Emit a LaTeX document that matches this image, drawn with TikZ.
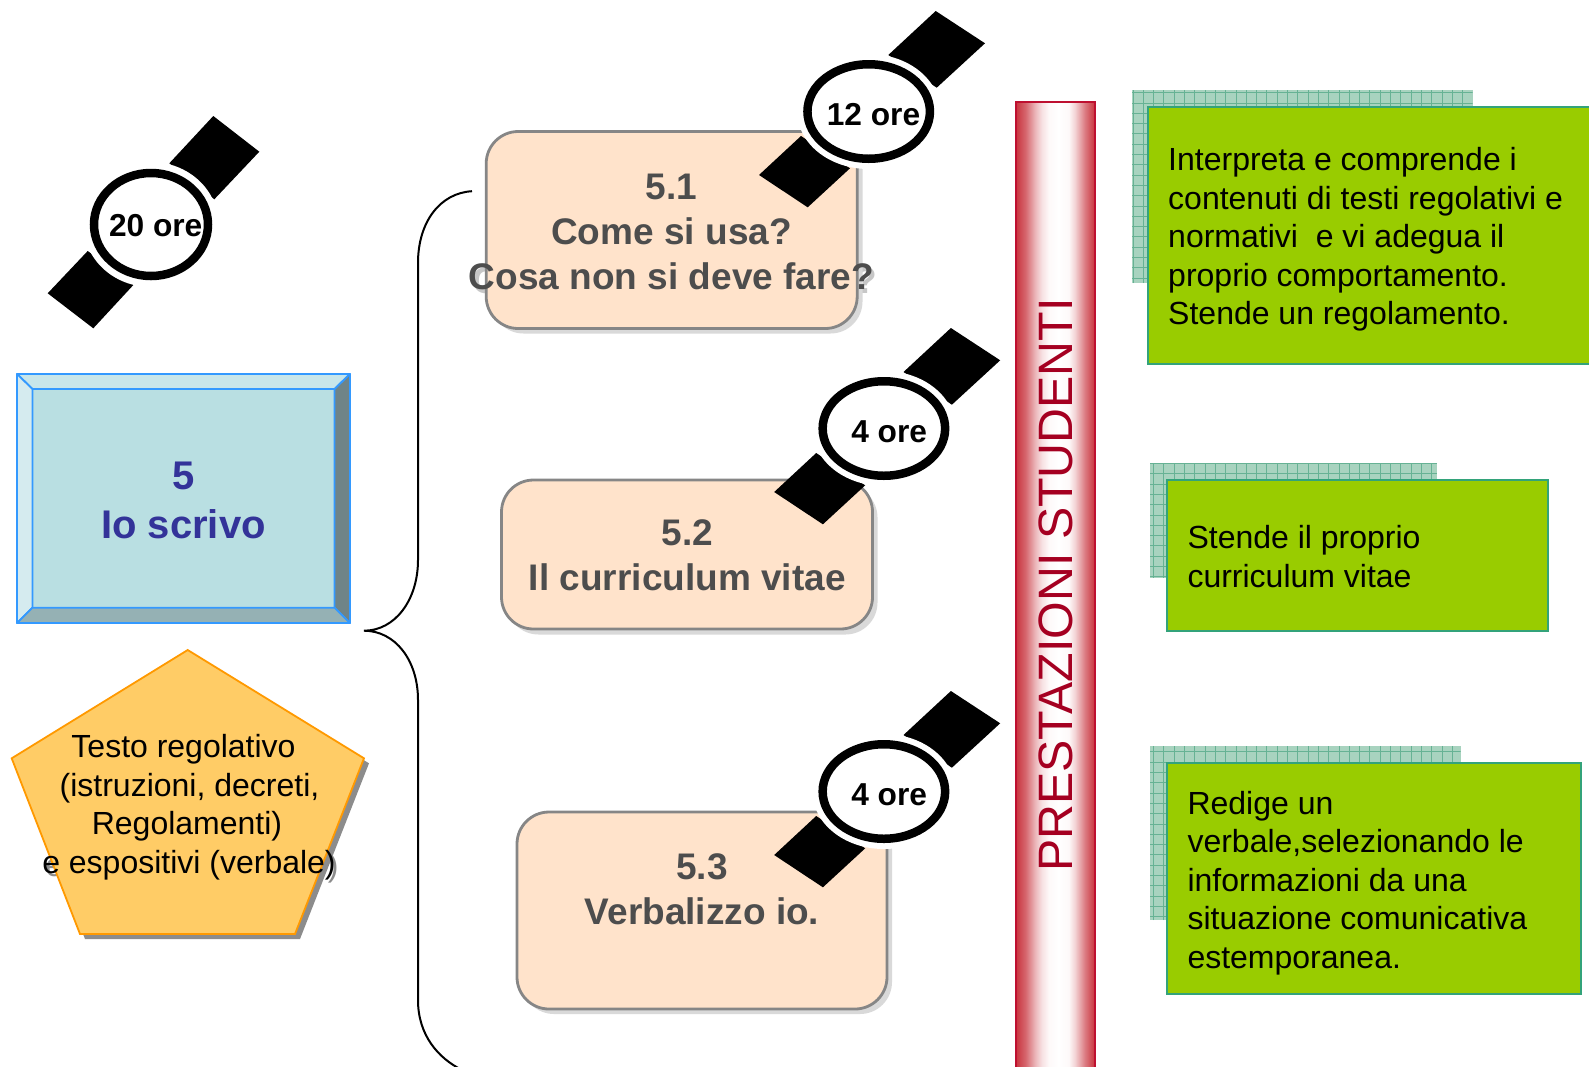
\documentclass[tikz,border=0pt]{standalone}
\usepackage{fontspec}
\setmainfont{Liberation Sans}
\usetikzlibrary{shapes.geometric}
\definecolor{facecol}{HTML}{B9DFE2}
\definecolor{topcol}{HTML}{C8E6EA}
\definecolor{leftcol}{HTML}{D5EBEF}
\definecolor{rightcol}{HTML}{6F8487}
\definecolor{botcol}{HTML}{95B1B4}
\definecolor{edgeblue}{HTML}{3399FF}
\definecolor{titleblue}{HTML}{333399}
\definecolor{pentfill}{HTML}{FFCC66}
\definecolor{pentedge}{HTML}{FF9900}
\definecolor{softfill}{HTML}{FFE3CB}
\definecolor{softedge}{HTML}{868686}
\definecolor{softshadow}{HTML}{D9D9D9}
\definecolor{softtext}{HTML}{4D4D4D}
\definecolor{barred}{HTML}{BE1030}
\definecolor{barfade}{HTML}{C8323C}
\definecolor{bartext}{HTML}{A50021}
\definecolor{greenfill}{HTML}{99CC00}
\definecolor{greenedge}{HTML}{33A37A}
\definecolor{backfill}{HTML}{A8D3BF}
\definecolor{backline}{HTML}{66B294}
\pgfdeclarehorizontalshading{barshade}{100bp}{
 color(0bp)=(barfade);
 color(25bp)=(barfade);
 color(31.25bp)=(barfade!75!white);
 color(37.5bp)=(barfade!35!white);
 color(41.5bp)=(barfade!15!white);
 color(46bp)=(barfade!3!white);
 color(52bp)=(white);
 color(58.5bp)=(barfade!3!white);
 color(62.5bp)=(barfade!22!white);
 color(68.75bp)=(barfade!65!white);
 color(75bp)=(barfade);
 color(100bp)=(barfade)}
\tikzset{
  x=1pt,y=-1pt,
  softbox/.style={draw=softedge,line width=2.8pt,fill=softfill,rounded corners=32pt,minimum width=#1,inner sep=0pt},
  softshade/.style={fill=softshadow,rounded corners=32pt,minimum width=#1,inner sep=0pt},
  softlabel/.style={font=\fontsize{37}{45}\selectfont\bfseries,text=softtext,align=center,inner sep=0pt},
  softghost/.style={font=\fontsize{37}{45}\selectfont\bfseries,text=softshadow!80!gray,align=center,inner sep=0pt},
  greenbox/.style={draw=greenedge,line width=2pt,fill=greenfill},
  greenlabel/.style={font=\fontsize{32}{38.5}\selectfont,align=left,anchor=north west,inner sep=0pt,text=black},
  backrect/.style={fill=backfill},
  backgrid/.style={draw=backline,line width=0.9pt,step=10.3pt},
  brace/.style={draw=black,line width=2pt},
  strap/.style={fill=black},
  dial/.style={shape=ellipse,draw=black,line width=8.5pt,fill=white,inner sep=0pt},
  halo/.style={shape=ellipse,fill=white,inner sep=0pt},
  watchtext/.style={font=\fontsize{31.7}{36}\selectfont\bfseries,inner sep=0pt,anchor=base,text=black},
  pentlabel/.style={font=\fontsize{32}{38.4}\selectfont,align=center,inner sep=0pt,text=black},
  bevel/.style={draw=edgeblue,line width=1.8pt,line join=round},
}
\newcommand{\smallwatch}[4]{% name, dx, dy, text, text centre
  \begin{scope}[shift={(#2,#3)}]
    \fill[strap] (935.7,11) -- (985,43.3) -- (936.7,87.7) -- (888.3,55) -- cycle;
    \fill[strap] (801,136) -- (850,168.3) -- (807.7,207.3) -- (759,175) -- cycle;
    \node[halo,minimum width=143pt,minimum height=115pt] (#1halo) at (868.7,111.5) {};
    \node[dial,minimum width=122.5pt,minimum height=94.5pt] (#1) at (868.7,111.5) {};
    \node[watchtext] (#1text) at (#4,125.5) {#1 ore};
  \end{scope}}
\begin{document}
\begin{tikzpicture}
\clip (0,0) rectangle (1589,1066);
\fill[white] (0,0) rectangle (1589,1066);

% main bevel box
\fill[facecol] (32.5,389) rectangle (334.5,607.7);
\filldraw[fill=topcol,bevel] (17,374) -- (350,374) -- (334.5,389) -- (32.5,389) -- cycle;
\filldraw[fill=leftcol,bevel] (17,374) -- (32.5,389) -- (32.5,607.7) -- (17,623) -- cycle;
\filldraw[fill=rightcol,bevel] (350,374) -- (350,623) -- (334.5,607.7) -- (334.5,389) -- cycle;
\filldraw[fill=botcol,bevel] (17,623) -- (32.5,607.7) -- (334.5,607.7) -- (350,623) -- cycle;
\node[font=\fontsize{40}{48.3}\selectfont\bfseries,text=titleblue,align=center,inner sep=0pt] (maintitle) at (183.5,500.5) {5\\Io scrivo};

% pentagon
\node[font=\fontsize{32}{38.4}\selectfont,align=center,inner sep=0pt,text=black!45] (pentghost) at (190,810.3) {Testo regolativo\hspace*{7pt}\\\hspace*{5pt}(istruzioni, decreti,\\Regolamenti)\hspace*{13pt}\\\hspace*{4pt}e espositivi (verbale)};
\fill[black!45] (192.7,655) -- (369,763.3) -- (300,939) -- (85,939) -- (16.7,763.3) -- cycle;
\filldraw[fill=pentfill,draw=pentedge,line width=1.8pt] (187.7,650) -- (364,758.3) -- (295,934) -- (80,934) -- (11.7,758.3) -- cycle;
\node[pentlabel] (penttext) at (187,807.3) {Testo regolativo\hspace*{7pt}\\\hspace*{5pt}(istruzioni, decreti,\\Regolamenti)\hspace*{13pt}\\\hspace*{4pt}e espositivi (verbale)};

% brace
\coordinate (braceA) at (472,191.2);
\coordinate (braceB) at (418,263);
\coordinate (braceC) at (418,560);
\coordinate (tip) at (364,630.7);
\coordinate (braceD) at (418,700);
\coordinate (braceE) at (418,1000);
\coordinate (braceF) at (462,1070);
\draw[brace] (braceA) .. controls (440,193) and (418,222) .. (braceB) -- (braceC)
  .. controls (418,600) and (395,630.7) .. (tip)
  .. controls (395,630.7) and (418,660) .. (braceD) -- (braceE)
  .. controls (418,1035) and (438,1058) .. (braceF);

% soft boxes
\node[softghost] (ghostA) at (675,235.8) {5.1\\Come si usa?\\Cosa non si deve fare?};
\node[softshade=371pt,minimum height=197pt] (shadeA) at (677,235) {};
\node[softbox=371pt,minimum height=197pt] (boxA) at (671.7,230) {};
\node[softlabel] (labelA) at (671.5,231.8) {5.1\\Come si usa?\\Cosa non si deve fare?};

\node[softshade=371pt,minimum height=149pt] (shadeB) at (692,560) {};
\node[softbox=371pt,minimum height=149pt] (boxB) at (687,554.5) {};
\node[softlabel] (labelB) at (687.3,555.5) {5.2\\Il curriculum vitae};

\node[softshade=370pt,minimum height=197pt] (shadeC) at (707,915.5) {};
\node[softbox=370pt,minimum height=197pt] (boxC) at (702,910.5) {};
\node[softlabel] (labelC) at (702,889) {5.3\\Verbalizzo io.};

% watches
\smallwatch{12}{0}{0}{873.5}
\smallwatch{4}{15.2}{317}{874}
\begingroup
\smallwatch{4}{15.2}{680}{874}
\endgroup
\fill[strap] (213.3,116) -- (259.3,151.7) -- (214.3,199.3) -- (169.3,163.3) -- cycle;
\fill[strap] (87.7,251) -- (134,284.3) -- (93.3,328.3) -- (47.7,293.3) -- cycle;
\node[halo,minimum width=135pt,minimum height=125pt] (watchhalo) at (151,224.5) {};
\node[dial,minimum width=114pt,minimum height=103pt] (watch20) at (151,224.5) {};
\node[watchtext] (watch20text) at (155.7,236) {20 ore};

% red bar
\path[shading=barshade,draw=barred,line width=2pt] (1015.5,101.5) rectangle (1095,1080);
\node[rotate=90,font=\fontsize{48.3}{50}\selectfont,text=bartext,inner sep=0pt] (bartitle) at (1056,585) {PRESTAZIONI STUDENTI};

% green panels
\fill[backrect] (1132,90) rectangle (1472.7,283);
\begin{scope}\clip (1132,90) rectangle (1472.7,283);\draw[backgrid] (1132,90) grid (1472.7,283);\end{scope}
\node[greenbox,anchor=north west,minimum width=470pt,minimum height=257pt] (panelA) at (1146.7,105.7) {};
\node[greenlabel] (panelAtext) at (1168,147.3) {Interpreta e comprende i\\contenuti di testi regolativi e\\normativi\ \ e vi adegua il\\proprio comportamento.\\Stende un regolamento.};

\fill[backrect] (1150,463) rectangle (1437,577.6);
\begin{scope}\clip (1150,463) rectangle (1437,577.6);\draw[backgrid] (1150,463) grid (1437,577.6);\end{scope}
\node[greenbox,anchor=north west,minimum width=381pt,minimum height=151pt] (panelB) at (1166.4,479.3) {};
\node[greenlabel] (panelBtext) at (1187.3,525.5) {Stende il proprio\\curriculum vitae};

\fill[backrect] (1150,746) rectangle (1460.5,920);
\begin{scope}\clip (1150,746) rectangle (1460.5,920);\draw[backgrid] (1150,746) grid (1460.5,920);\end{scope}
\node[greenbox,anchor=north west,minimum width=413.6pt,minimum height=231pt] (panelC) at (1166.4,762) {};
\node[greenlabel] (panelCtext) at (1187.3,790.6) {Redige un\\verbale,selezionando le\\informazioni da una\\situazione comunicativa\\estemporanea.};
\end{tikzpicture}
\end{document}
